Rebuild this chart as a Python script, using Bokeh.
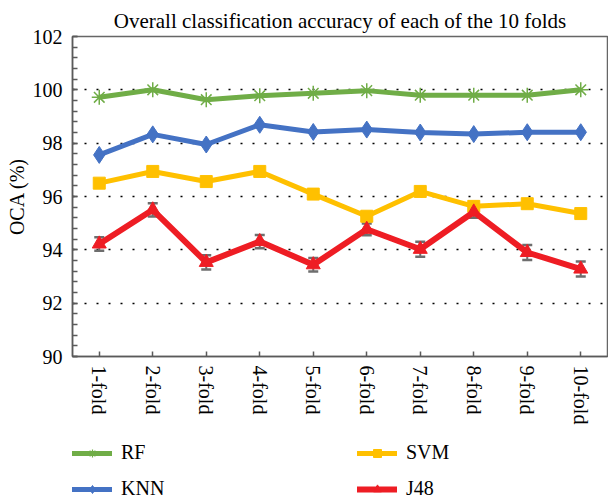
import math
from bokeh.plotting import figure
from bokeh.layouts import column
from bokeh.models import (ColumnDataSource, FixedTicker, Legend, LegendItem,
                          Whisker, TeeHead, Range1d, FactorRange)
from bokeh.embed import file_html
from bokeh.resources import INLINE

folds = ["1-fold", "2-fold", "3-fold", "4-fold", "5-fold",
         "6-fold", "7-fold", "8-fold", "9-fold", "10-fold"]
rf = [99.72, 100.0, 99.63, 99.78, 99.87, 99.97, 99.80, 99.80, 99.80, 100.0]
knn = [97.56, 98.33, 97.95, 98.69, 98.42, 98.51, 98.40, 98.34, 98.41, 98.41]
svm = [96.50, 96.94, 96.56, 96.94, 96.09, 95.26, 96.19, 95.63, 95.73, 95.36]
j48 = [94.22, 95.50, 93.53, 94.31, 93.44, 94.77, 94.02, 95.42, 93.90, 93.28]
j48_err = [0.25, 0.25, 0.27, 0.25, 0.25, 0.22, 0.28, 0.22, 0.28, 0.28]
y_ticks = [90, 92, 94, 96, 98, 100, 102]
series_names = ["RF", "SVM", "KNN", "J48"]

SERIF = "Liberation Serif"
AX = "#5a5a5a"
GREEN, BLUE, YEL, RED = "#70AD47", "#4472C4", "#FFC000", "#EE1D24"

p = figure(width=608, height=430, x_range=folds, y_range=Range1d(90, 102),
           output_backend="svg", toolbar_location=None,
           title="Overall classification accuracy of each of the 10 folds",
           min_border_left=72, min_border_right=1, min_border_top=36,
           min_border_bottom=74)
p.title.text_font = SERIF
p.title.text_font_size = "21px"
p.title.text_font_style = "normal"
p.title.align = "center"
p.title.text_color = "black"
p.title.standoff = 8

p.outline_line_color = "#666666"
p.outline_line_width = 1.5
p.xgrid.grid_line_color = None
p.ygrid.grid_line_color = "black"
p.ygrid.grid_line_dash = "2 10"
p.ygrid.grid_line_width = 1.5

minor = [90 + 0.4 * i for i in range(31)]
p.yaxis.ticker = FixedTicker(ticks=y_ticks, minor_ticks=minor)
for ax in (p.xaxis, p.yaxis):
    ax.axis_line_color = AX
    ax.axis_line_width = 1.5
    ax.major_tick_line_color = AX
    ax.major_tick_line_width = 1.5
    ax.major_tick_in = 5
    ax.major_tick_out = 0
    ax.major_label_text_font = SERIF
    ax.major_label_text_font_size = "20px"
    ax.major_label_text_color = "black"
p.yaxis.minor_tick_line_color = AX
p.yaxis.minor_tick_line_width = 1.5
p.yaxis.minor_tick_in = 5
p.yaxis.minor_tick_out = 0
p.yaxis.major_label_standoff = 10
p.yaxis.axis_label = "OCA (%)"
p.yaxis.axis_label_text_font = SERIF
p.yaxis.axis_label_text_font_size = "20px"
p.yaxis.axis_label_text_font_style = "normal"
p.yaxis.axis_label_text_color = "black"
p.yaxis.axis_label_standoff = 2
p.xaxis.major_label_orientation = -math.pi / 2
p.xaxis.major_label_standoff = 9

src = ColumnDataSource(dict(x=folds, rf=rf, knn=knn, svm=svm, j48=j48,
                            lo=[v - e for v, e in zip(j48, j48_err)],
                            hi=[v + e for v, e in zip(j48, j48_err)]))

wh = Whisker(base="x", upper="hi", lower="lo", source=src,
             line_color="#6e6e6e", line_width=2,
             upper_head=TeeHead(size=10, line_color="#6e6e6e", line_width=2.5),
             lower_head=TeeHead(size=10, line_color="#6e6e6e", line_width=2.5))
p.add_layout(wh)

styles = {
    "RF": dict(color=GREEN, lw=5, marker="asterisk", size=15),
    "KNN": dict(color=BLUE, lw=5, marker="diamond", size=17),
    "SVM": dict(color=YEL, lw=5, marker="square", size=12),
    "J48": dict(color=RED, lw=6, marker="triangle", size=14),
}
cols = {"RF": "rf", "KNN": "knn", "SVM": "svm", "J48": "j48"}

for name in ["RF", "KNN", "SVM", "J48"]:
    st = styles[name]
    p.line("x", cols[name], source=src, line_color=st["color"], line_width=st["lw"])
    p.scatter("x", cols[name], source=src, marker=st["marker"], size=st["size"],
              fill_color=st["color"], line_color=st["color"],
              line_width=1.5 if st["marker"] == "asterisk" else 1)

# legend strip beneath the chart (its renderers use the same data, out of view)
q = figure(width=608, height=70, x_range=FactorRange(*folds),
           y_range=Range1d(0, 1),
           output_backend="svg", toolbar_location=None,
           x_axis_type=None, y_axis_type=None,
           min_border_left=0, min_border_right=0, min_border_top=0,
           min_border_bottom=0)
q.outline_line_color = None
q.xgrid.grid_line_color = None
q.ygrid.grid_line_color = None
items = []
for name in series_names:
    st = styles[name]
    rl = q.line("x", cols[name], source=src, line_color=st["color"],
                line_width=st["lw"], line_cap="round")
    rm = q.scatter("x", cols[name], source=src, marker=st["marker"],
                   size=st["size"] - 5,
                   fill_color=st["color"], line_color=st["color"],
                   line_width=1.2 if st["marker"] == "asterisk" else 1)
    items.append(LegendItem(label=name, renderers=[rl, rm]))

legend = Legend(items=items, ncols=2, location=(0, 0), orientation="horizontal",
                label_text_font=SERIF, label_text_font_size="20px",
                label_text_color="black",
                glyph_width=40, glyph_height=20, label_height=20,
                label_width=223, spacing=13, label_standoff=9,
                padding=0, margin=0, border_line_color=None,
                background_fill_alpha=0)
q.add_layout(legend)

layout = column(p, q, spacing=0)
open("out.html", "w").write(file_html(layout, INLINE))
